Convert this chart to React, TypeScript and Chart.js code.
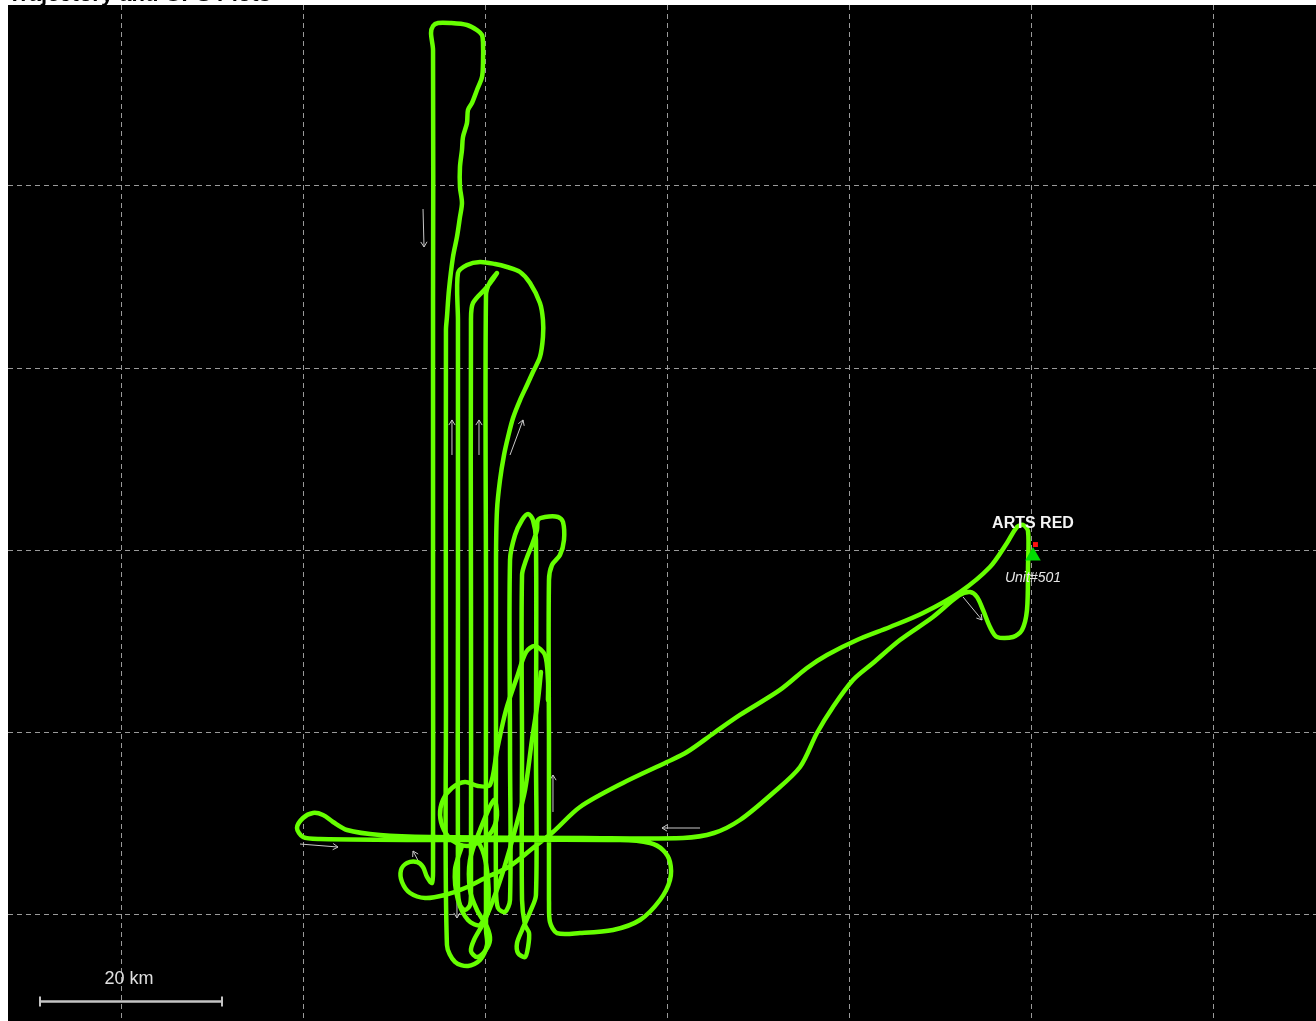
import React, { useEffect, useRef, useState } from "react";
import { Chart, registerables } from "chart.js";

Chart.register(...registerables);

type P = [number, number];

// Survey flight (km east / km north of the grid origin)
const surveyTrack: P[] = [
  [46.92, 1.54], [46.92, 18.02], [46.92, 36.7], [47.25, 38.35], [48.13, 39.45], [48.57, 41.1],
  [48.46, 43.08], [47.91, 43.63], [46.48, 43.63], [45.71, 43.3], [45.6, 42.2], [45.05, 40.55],
  [44.4, 38.9], [43.96, 37.25], [43.96, 18.02], [43.96, 1.54], [44.29, -1.21], [44.73, -2.09],
  [44.62, -3.63], [44.29, -4.73], [43.52, -4.29], [43.41, -3.19], [43.96, -1.76], [44.84, 0.22],
  [45.49, 2.09], [45.49, 18.02], [45.49, 41.1], [45.16, 43.3], [44.62, 43.96], [43.96, 43.3],
  [43.19, 41.65], [42.64, 38.9], [42.64, 18.02], [42.64, 1.54], [42.09, 0.22], [41.32, 0.66],
  [41.1, 2.64], [41.1, 18.02], [41.1, 38.9], [41.21, 44.4], [41.54, 47.69], [41.98, 50.44],
  [42.42, 52.42], [42.97, 54.51], [43.74, 56.48], [44.51, 58.13], [45.16, 59.56], [45.93, 61.21],
  [46.26, 63.41], [46.26, 65.27], [45.93, 67.14], [44.84, 69.34], [43.74, 70.55], [42.31, 71.1],
  [40.99, 71.43], [39.34, 71.65], [37.91, 71.32], [36.92, 70.44], [36.92, 65.27], [36.92, 34.51],
  [36.92, 2.64], [37.14, 0.99], [37.69, 0.44], [38.24, 0.99], [38.35, 2.64], [38.35, 34.51],
  [38.35, 65.27], [38.57, 67.14], [40.11, 68.9], [41.21, 70.44], [40.44, 69.45], [40.0, 68.02],
  [40.0, 34.51], [40.0, -1.76], [40.11, -3.41], [39.34, -5.05], [38.02, -5.71], [36.59, -5.27],
  [35.71, -3.41], [35.6, 23.52], [35.6, 64.18], [35.71, 65.6], [35.93, 68.57], [36.37, 72.2],
  [36.81, 74.4], [37.14, 76.59], [37.36, 78.13], [37.14, 79.89], [37.14, 82.09], [37.36, 83.96],
  [37.47, 85.38], [37.91, 86.92], [38.02, 88.35], [38.46, 89.12], [39.01, 90.55], [39.56, 91.98],
  [39.67, 93.52], [39.67, 95.71], [39.56, 96.59], [39.01, 97.14], [37.91, 97.69], [36.04, 97.91],
  [34.73, 97.91], [34.18, 97.58], [33.96, 96.81], [34.18, 94.95], [34.18, 67.47], [34.18, 34.51],
  [34.18, 4.84], [34.07, 3.41], [33.52, 4.07], [33.08, 5.16], [32.42, 5.71], [31.32, 5.6],
  [30.66, 4.84], [30.77, 3.52], [31.65, 2.31], [33.3, 1.76], [35.49, 2.09], [37.69, 2.86],
  [40.11, 4.07], [42.64, 5.27], [45.16, 7.25], [47.36, 9.01], [50.33, 11.76], [55.05, 14.4],
  [59.89, 16.7], [62.09, 17.8], [65.05, 19.89], [67.91, 21.87], [72.31, 24.62], [75.27, 27.03],
  [77.47, 28.46], [80.77, 30.11], [84.4, 31.54], [88.02, 33.08], [92.09, 35.38],
  [95.38, 38.13], [97.25, 40.77], [98.35, 42.53], [99.01, 42.75], [99.56, 42.09], [99.56, 38.13],
  [99.45, 33.41], [98.9, 31.21], [97.91, 30.44], [96.15, 30.44], [95.38, 31.54], [94.62, 33.41],
  [93.96, 34.84], [93.19, 35.38], [91.98, 35.0], [89.12, 32.64], [85.49, 30.11], [82.53, 27.58],
  [80.33, 25.71], [78.13, 22.75], [76.37, 19.89], [74.51, 16.15], [71.54, 13.3], [67.91, 10.33],
  [65.05, 8.9], [61.65, 8.35], [50.66, 8.35], [33.85, 8.46], [28.35, 8.68], [24.73, 9.23],
  [23.19, 10.11], [22.09, 10.88], [20.99, 11.1], [19.89, 10.55], [19.23, 9.45], [19.89, 8.46],
  [21.76, 8.24], [33.85, 8.13], [54.73, 8.13], [58.02, 7.8], [59.45, 7.03], [60.22, 5.71],
  [60.22, 3.74], [59.12, 1.54], [56.92, -0.66], [53.96, -1.76], [50.33, -2.09], [47.8, -2.09],
  [47.03, -0.88], [46.92, 1.54],
];

// Orbit / tangle near the southern end of the survey lines
const orbitTrack: P[] = [
  [46.81, 23.52], [46.81, 25.71], [46.48, 28.46], [45.38, 29.45], [44.4, 28.79], [43.41, 26.04],
  [42.2, 22.42], [41.21, 18.02], [40.44, 14.18], [39.12, 14.07], [37.69, 14.51], [36.26, 13.85],
  [35.27, 12.53], [34.95, 10.88], [35.38, 9.23], [36.37, 8.02], [37.91, 7.47], [39.45, 8.02],
  [40.66, 9.12], [41.21, 10.88], [40.88, 12.53], [39.34, 9.23], [38.24, 5.93], [38.24, 2.64],
  [39.01, 0.44], [40.11, -1.43], [40.44, -2.86], [39.89, -4.07], [39.01, -4.73], [38.35, -4.07],
  [38.68, -2.86], [39.78, -0.88], [40.99, 2.09], [42.09, 5.38], [43.19, 9.23], [44.29, 13.63],
  [45.05, 19.12], [45.71, 23.52], [46.04, 26.59],
];

// Inner elongated loop under the orbit
const innerLoop: P[] = [
  [37.36, 7.47], [36.59, 4.84], [36.92, 1.54], [38.02, -0.66], [39.34, -1.21], [40.22, 0.99],
  [40.11, 4.84], [39.34, 7.58], [38.2, 8.3],
];

// Direction arrows: [tail, head]
const directionArrows: [P, P][] = [
  [[33.08, 77.47], [33.19, 73.3]],
  [[19.56, 7.69], [23.74, 7.36]],
  [[63.52, 9.45], [59.34, 9.45]],
  [[47.36, 11.21], [47.36, 15.27]],
  [[33.85, 3.41], [31.98, 6.92]],
  [[36.81, 2.86], [36.81, -0.44]],
  [[92.42, 34.84], [94.51, 32.31]],
  [[42.64, 50.44], [44.07, 54.29]],
  [[36.26, 50.44], [36.26, 54.29]],
  [[39.23, 50.44], [39.23, 54.29]],
];

const unitPosition: P = [100.11, 39.34];
const beaconPosition: P = [100.38, 40.6];
const siteLabel = "ARTS RED";
const unitLabel = "Unit#501";
const gridTicksX = [0, 20, 40, 60, 80, 100, 120];
const gridTicksY = [0, 20, 40, 60, 80];
const scaleBarKm = 20;
const scaleBarLabel = "20 km";
const titleText = "Trajectory and GPS Plots";

const X_MIN = -12.527;
const X_MAX = 131.209;
const Y_MIN = -11.758;
const Y_MAX = 99.89;

const TRACK_COLOR = "rgb(102,255,0)";

function drawArrow(ctx: CanvasRenderingContext2D, x1: number, y1: number, x2: number, y2: number) {
  const ang = Math.atan2(y2 - y1, x2 - x1);
  const h = 6;
  ctx.beginPath();
  ctx.moveTo(x1, y1);
  ctx.lineTo(x2, y2);
  ctx.moveTo(x2 - h * Math.cos(ang - 0.55), y2 - h * Math.sin(ang - 0.55));
  ctx.lineTo(x2, y2);
  ctx.lineTo(x2 - h * Math.cos(ang + 0.55), y2 - h * Math.sin(ang + 0.55));
  ctx.stroke();
}

const backgroundPlugin = {
  id: "blackBackground",
  beforeDraw(chart: any) {
    const { ctx, width, height } = chart;
    ctx.save();
    ctx.fillStyle = "#000";
    ctx.fillRect(0, 0, width, height);
    ctx.restore();
  },
};

const overlayPlugin = {
  id: "mapOverlay",
  beforeDatasetsDraw(chart: any) {
    const { ctx } = chart;
    const xs = chart.scales.x;
    const ys = chart.scales.y;
    ctx.save();
    ctx.strokeStyle = "#c8c8c8";
    ctx.lineWidth = 1;
    for (const [a, b] of directionArrows) {
      drawArrow(
        ctx,
        xs.getPixelForValue(a[0]),
        ys.getPixelForValue(a[1]),
        xs.getPixelForValue(b[0]),
        ys.getPixelForValue(b[1])
      );
    }
    ctx.restore();
  },
  afterDraw(chart: any) {
    const { ctx } = chart;
    const xs = chart.scales.x;
    const ys = chart.scales.y;
    ctx.save();
    const ux = xs.getPixelForValue(unitPosition[0]);
    const uy = ys.getPixelForValue(unitPosition[1]);
    ctx.textAlign = "center";
    ctx.textBaseline = "alphabetic";
    ctx.fillStyle = "#f4f4f4";
    ctx.font = 'bold 16px "Liberation Sans", Arial, sans-serif';
    ctx.fillText(siteLabel, ux, uy - 28);
    ctx.font = 'italic 14px "Liberation Sans", Arial, sans-serif';
    ctx.fillStyle = "#e6e6e6";
    ctx.fillText(unitLabel, ux, uy + 26);

    const len = xs.getPixelForValue(scaleBarKm) - xs.getPixelForValue(0);
    const bx = 32;
    const by = 996.5;
    ctx.strokeStyle = "#c4c4c4";
    ctx.lineWidth = 2.5;
    ctx.beginPath();
    ctx.moveTo(bx, by);
    ctx.lineTo(bx + len, by);
    ctx.stroke();
    ctx.lineWidth = 2;
    ctx.beginPath();
    ctx.moveTo(bx, by - 5);
    ctx.lineTo(bx, by + 5);
    ctx.moveTo(bx + len, by - 5);
    ctx.lineTo(bx + len, by + 5);
    ctx.stroke();
    ctx.fillStyle = "#e0e0e0";
    ctx.font = '18px "Liberation Sans", Arial, sans-serif';
    ctx.fillText(scaleBarLabel, bx + len / 2 - 2, by - 18);
    ctx.restore();
  },
};

export default function App() {
  const ref = useRef<HTMLCanvasElement>(null);
  const [err, setErr] = useState("");

  useEffect(() => {
    if (!ref.current) return;
    let chart: any = null;
    try {
      const toPts = (arr: P[]) => arr.map(([x, y]) => ({ x, y }));
      const gridScale = (ticks: number[], min: number, max: number) => ({
        type: "linear",
        min,
        max,
        afterBuildTicks: (s: any) => {
          s.ticks = ticks.map((v) => ({ value: v }));
        },
        ticks: { display: false },
        grid: { color: "#9a9a9a", lineWidth: 1, drawTicks: false, tickLength: 0 },
        border: { display: false, dash: [5, 4] },
      });
      const trackStyle = {
        showLine: true,
        borderColor: TRACK_COLOR,
        borderWidth: 4.5,
        pointRadius: 0,
        tension: 0.3,
        borderJoinStyle: "round",
        borderCapStyle: "round",
      };
      chart = new Chart(ref.current, {
        type: "scatter",
        data: {
          datasets: [
            {
              data: toPts([beaconPosition]),
              pointStyle: "rect",
              pointRadius: 3.5,
              backgroundColor: "#ff1010",
              borderWidth: 0,
              order: 0,
            },
            {
              data: toPts([unitPosition]),
              pointStyle: "triangle",
              pointRadius: 9,
              backgroundColor: "#00dd00",
              borderWidth: 0,
              order: 1,
            },
            { data: toPts(surveyTrack), ...trackStyle, order: 2 },
            { data: toPts(orbitTrack), ...trackStyle, order: 3 },
            { data: toPts(innerLoop), ...trackStyle, order: 4 },
          ],
        },
        options: {
          animation: false,
          responsive: false,
          devicePixelRatio: 1,
          layout: { padding: 0, autoPadding: false },
          plugins: { legend: { display: false }, tooltip: { enabled: false } },
          scales: {
            x: gridScale(gridTicksX, X_MIN, X_MAX),
            y: gridScale(gridTicksY, Y_MIN, Y_MAX),
          },
        },
        plugins: [backgroundPlugin, overlayPlugin],
      } as any);
    } catch (e: any) {
      setErr(String(e && e.stack ? e.stack : e));
    }
    return () => {
      if (chart) chart.destroy();
    };
  }, []);

  return (
    <div>
      <div
        style={{
          position: "fixed",
          left: 8,
          top: -17,
          font: 'bold 22px "Liberation Sans", Arial, sans-serif',
          lineHeight: "22px",
          whiteSpace: "nowrap",
          color: "#000",
        }}
      >
        {titleText}
      </div>
      <canvas
        ref={ref}
        width={1308}
        height={1016}
        style={{ position: "fixed", left: 8, top: 5, display: "block" }}
      />
      {err ? (
        <pre style={{ position: "fixed", left: 20, top: 40, color: "red", background: "#fff", zIndex: 5 }}>{err}</pre>
      ) : null}
    </div>
  );
}
